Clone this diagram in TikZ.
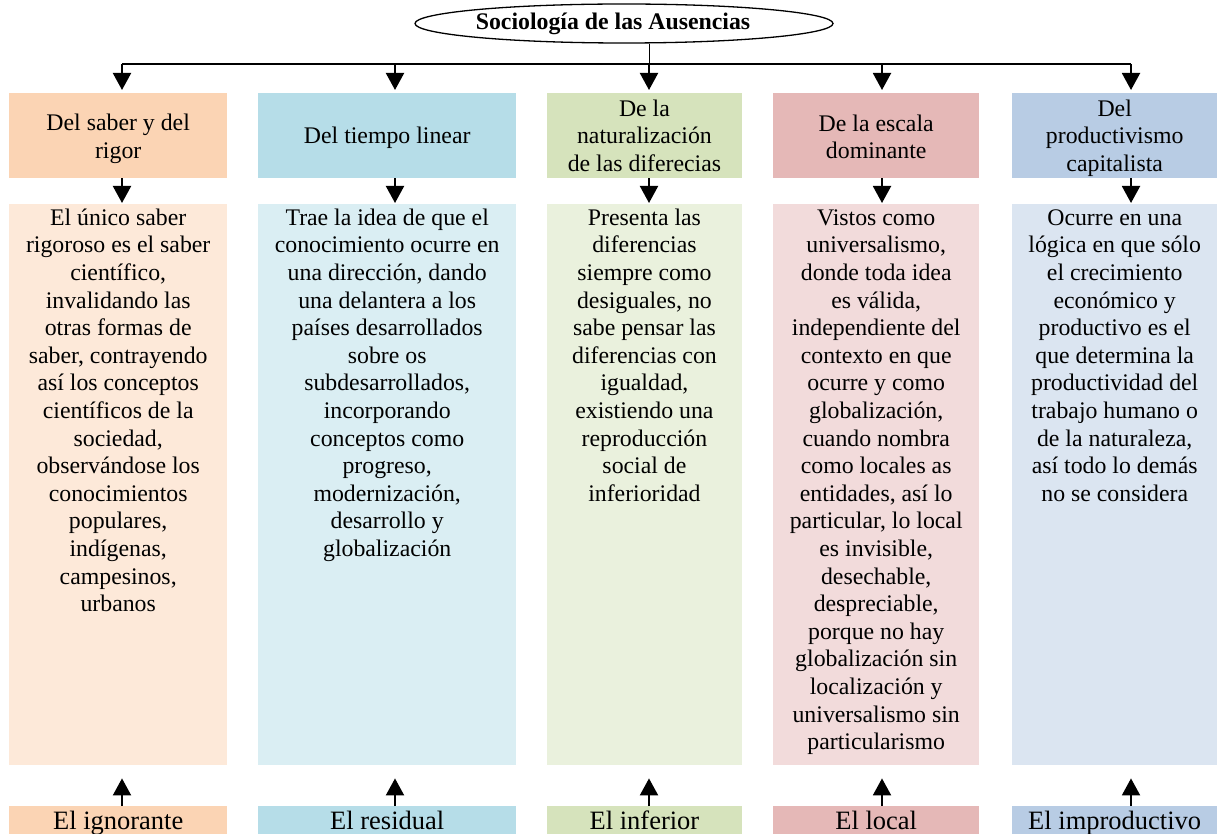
\documentclass[tikz,border=0pt]{standalone}
\usepackage{fontspec}
\setmainfont{Liberation Serif}
\usetikzlibrary{arrows.meta,shapes.geometric}
\definecolor{hA}{HTML}{FBD4B4}\definecolor{bA}{HTML}{FDE9D9}
\definecolor{hB}{HTML}{B6DDE8}\definecolor{bB}{HTML}{DAEEF3}
\definecolor{hC}{HTML}{D6E3BC}\definecolor{bC}{HTML}{EAF1DD}
\definecolor{hD}{HTML}{E5B8B7}\definecolor{bD}{HTML}{F2DBDB}
\definecolor{hE}{HTML}{B8CCE4}\definecolor{bE}{HTML}{DBE5F1}
\newcommand\fstr{\rule{0pt}{18pt}}
\begin{document}
\begin{tikzpicture}[x=1pt,y=-1pt,
  txt/.style={font=\fontsize{23.8}{27.6}\selectfont},
  headbox/.style={txt, fill=#1, draw=none, inner sep=0pt, minimum height=85pt, align=center, anchor=north west},
  headtext/.style={txt, inner sep=0pt, align=center},
  bodybox/.style={fill=#1, draw=none, inner sep=0pt, minimum height=561pt, anchor=north west},
  bodytext/.style={txt, inner sep=0pt, align=center, anchor=north},
  lowbox/.style={fill=#1, draw=none, inner sep=0pt, minimum height=28pt, anchor=north west,
     font=\fontsize{26.5}{30}\selectfont, text height=18pt, text depth=0pt},
  arr/.style={line width=2pt, -{Triangle[width=18pt,length=17pt]}},
  bar/.style={line width=2pt},
  ell/.style={ellipse, draw, line width=1.3pt, fill=white, minimum width=418pt, minimum height=39pt, inner sep=0pt, txt, font=\fontsize{23.8}{27.5}\selectfont\bfseries}
]
\useasboundingbox (0,0) rectangle (1217,834);

% title
\node[ell] (top) at (624,23.5) {\hspace*{-22pt}Sociología de las Ausencias};

% junction coordinates
\coordinate (j1) at (122,64);
\coordinate (j2) at (395,64);
\coordinate (j3) at (649,64);
\coordinate (j4) at (882,64);
\coordinate (j5) at (1131,64);

% header boxes
\node[headbox=hA, minimum width=218pt] (h1) at (9,93) {};
\node[headbox=hB, minimum width=258pt] (h2) at (258,93) {};
\node[headbox=hC, minimum width=194.5pt] (h3) at (547,93) {};
\node[headbox=hD, minimum width=206pt] (h4) at (773,93) {};
\node[headbox=hE, minimum width=205pt] (h5) at (1012,93) {};
\node[headtext] (ht1) at ([yshift=-3pt]h1.center) {Del saber y del\\rigor};
\node[headtext] (ht2) at ([yshift=-2pt]h2.center) {Del tiempo linear};
\node[headtext] (ht3) at (h3.center) {De la\\naturalización\\de las diferecias};
\node[headtext] (ht4) at ([yshift=-1pt]h4.center) {De la escala\\dominante};
\node[headtext] (ht5) at ([yshift=-2.5pt]h5.center) {Del\\productivismo\\capitalista};

% body boxes
\node[bodybox=bA, minimum width=218pt] (b1) at (9,204) {};
\node[bodybox=bB, minimum width=258pt] (b2) at (258,204) {};
\node[bodybox=bC, minimum width=194.5pt] (b3) at (547,204) {};
\node[bodybox=bD, minimum width=206pt] (b4) at (773,204) {};
\node[bodybox=bE, minimum width=205pt] (b5) at (1012,204) {};

\node[bodytext] (t1) at ([yshift=-3pt]b1.north) {\fstr El único saber\\rigoroso es el saber\\científico,\\invalidando las\\otras formas de\\saber, contrayendo\\así los conceptos\\científicos de la\\sociedad,\\observándose los\\conocimientos\\populares,\\indígenas,\\campesinos,\\urbanos};
\node[bodytext] (t2) at ([yshift=-3pt]b2.north) {\fstr Trae la idea de que el\\conocimiento ocurre en\\una dirección, dando\\una delantera a los\\países desarrollados\\sobre os\\subdesarrollados,\\incorporando\\conceptos como\\progreso,\\modernización,\\desarrollo y\\globalización};
\node[bodytext] (t3) at ([yshift=-3pt]b3.north) {\fstr Presenta las\\diferencias\\siempre como\\desiguales, no\\sabe pensar las\\diferencias con\\igualdad,\\existiendo una\\reproducción\\social de\\inferioridad};
\node[bodytext] (t4) at ([yshift=-3pt]b4.north) {\fstr Vistos como\\universalismo,\\donde toda idea\\es válida,\\independiente del\\contexto en que\\ocurre y como\\globalización,\\cuando nombra\\como locales as\\entidades, así lo\\particular, lo local\\es invisible,\\desechable,\\despreciable,\\porque no hay\\globalización sin\\localización y\\universalismo sin\\particularismo};
\node[bodytext] (t5) at ([yshift=-3pt]b5.north) {\fstr Ocurre en una\\lógica en que sólo\\el crecimiento\\económico y\\productivo es el\\que determina la\\productividad del\\trabajo humano o\\de la naturaleza,\\así todo lo demás\\no se considera};

% bottom labels
\node[lowbox=hA, minimum width=218pt] (l1) at (9,806) {El ignorante};
\node[lowbox=hB, minimum width=258pt] (l2) at (258,806) {El residual};
\node[lowbox=hC, minimum width=194.5pt] (l3) at (547,806) {El inferior};
\node[lowbox=hD, minimum width=206pt] (l4) at (773,806) {El local};
\node[lowbox=hE, minimum width=205pt] (l5) at (1012,806) {El improductivo};

% connectors from title
\draw[line width=1pt] (top.south -| j3) -- (j3);
\draw[bar] (j1) -- (j5);
\foreach \i in {1,...,5} {
  \draw[arr, shorten >=3pt] (j\i) -- (h\i.north -| j\i);
  \draw[arr, shorten >=1pt] (h\i.south -| j\i) -- (b\i.north -| j\i);
  \draw[arr, shorten >=13pt] (l\i.north -| j\i) -- (b\i.south -| j\i);
}
\end{tikzpicture}
\end{document}
